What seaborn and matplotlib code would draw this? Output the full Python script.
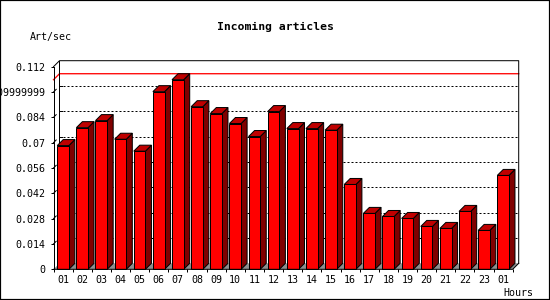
import numpy as np
import pandas as pd
import matplotlib
matplotlib.use("Agg")
import matplotlib.pyplot as plt
from matplotlib.patches import Polygon, Rectangle
import seaborn as sns

# ---- data ----
hours = ['01', '02', '03', '04', '05', '06', '07', '08', '09', '10', '11', '12',
         '13', '14', '15', '16', '17', '18', '19', '20', '21', '22', '23', '01']
rates = [0.0684, 0.0783, 0.0822, 0.0719, 0.0653, 0.0982, 0.1048, 0.0899,
         0.0861, 0.0806, 0.0734, 0.0872, 0.0778, 0.0778, 0.0769, 0.0469,
         0.0309, 0.0292, 0.0281, 0.0237, 0.0226, 0.0320, 0.0215, 0.0519]
ytick_vals = [0, 0.014, 0.028, 0.042, 0.056, 0.07, 0.084, 0.098, 0.112]
ytick_labels = ['0', '0.014', '0.028', '0.042', '0.056', '0.07', '0.084',
                '0.09999999', '0.112']
title = 'Incoming articles'
ylabel = 'Art/sec'
xlabel = 'Hours'

df = pd.DataFrame({'slot': np.arange(len(rates)), 'rate': rates})

FONT = 'DejaVu Sans Mono'
W, H, DPI = 550, 300, 100
PX = 72.0 / DPI  # points per pixel

fig = plt.figure(figsize=(W / DPI, H / DPI), dpi=DPI)
fig.patch.set_facecolor('white')

left_px, right_px, top_px, bot_px = 53.5, 512.7, 66.7, 269.3
ax = fig.add_axes([left_px / W, 1 - bot_px / H,
                   (right_px - left_px) / W, (bot_px - top_px) / H])
ax.set_facecolor('none')

n = len(rates)
x0, x1 = -0.5, n - 0.5
ymax = ytick_vals[-1]
ax.set_xlim(x0, x1)
ax.set_ylim(0, ymax)

# 3D depth (6 px right, 6 px up) in data units
depth_px = 6.0
dx = depth_px * (x1 - x0) / (right_px - left_px)
dy = depth_px * ymax / (bot_px - top_px)

lw = 1.0 * PX
FRONT, TOP, SIDE, FLOOR = '#ff0000', '#bf0000', '#800000', '#8e8e8e'

# floor
ax.add_patch(Polygon([(x0, 0), (x1, 0), (x1 + dx, dy), (x0 + dx, dy)],
                     closed=True, facecolor=FLOOR, edgecolor='none',
                     zorder=1, clip_on=False))

# back plane grid (dotted)
for v in ytick_vals[1:-1]:
    ax.plot([x0 + dx + 0.2, x1 + dx], [v + dy, v + dy], color='black', lw=lw,
            linestyle=(0, (2, 2)), zorder=1.5, clip_on=False)
    ax.plot([x0 + dx, x0 + dx * 1.45], [v + dy, v + dy], color='black', lw=lw,
            zorder=1.5, clip_on=False)
    ax.plot([x0, x0 + dx * 0.45], [v, v + dy * 0.45], color='black', lw=lw,
            zorder=1.5, clip_on=False)

# max line (red) on back plane with left-wall diagonal
vmax = max(rates)
ax.plot([x0, x0 + dx, x1 + dx], [vmax, vmax + dy, vmax + dy], color='red',
        lw=1.3 * PX, zorder=1.6, clip_on=False)

# back plane left edge
ax.plot([x0 + dx, x0 + dx], [dy, ymax + dy], color='black', lw=lw,
        zorder=1.6, clip_on=False)

# bars (front faces)
sns.barplot(data=df, x='slot', y='rate', color=FRONT, saturation=1,
            width=0.61, edgecolor='black', linewidth=lw, ax=ax, zorder=3)

for p in list(ax.patches):
    if isinstance(p, Polygon):
        continue
    bx, bw, bh = p.get_x(), p.get_width(), p.get_height()
    if bh <= 0:
        continue
    p.set_clip_on(False)
    top = Polygon([(bx, bh), (bx + bw, bh), (bx + bw + dx, bh + dy), (bx + dx, bh + dy)],
                  closed=True, facecolor=TOP, edgecolor='black', linewidth=lw,
                  zorder=2.9, clip_on=False, joinstyle='miter')
    side = Polygon([(bx + bw, 0), (bx + bw + dx, dy), (bx + bw + dx, bh + dy), (bx + bw, bh)],
                   closed=True, facecolor=SIDE, edgecolor='black', linewidth=lw,
                   zorder=2.9, clip_on=False, joinstyle='miter')
    ax.add_patch(side)
    ax.add_patch(top)

# 3D frame
frame_kw = dict(color='black', lw=lw, zorder=5, clip_on=False, solid_capstyle='projecting')
ax.plot([x0, x0], [0, ymax], **frame_kw)
ax.plot([x0, x0 + dx, x1 + dx, x1 + dx], [ymax, ymax + dy, ymax + dy, dy], **frame_kw)
ax.plot([x0, x1, x1 + dx], [0, 0, dy], **frame_kw)

for s in ax.spines.values():
    s.set_visible(False)

# ticks
ax.set_yticks(ytick_vals)
ax.set_yticklabels(ytick_labels, fontfamily=FONT, fontsize=7.2)
ax.tick_params(axis='y', direction='out', length=3.5 * PX,
               width=lw, pad=3.5, colors='black')
ax.set_xticks(np.arange(n))
ax.set_xticklabels(hours, fontfamily=FONT, fontsize=7.2)
ax.set_xticks(np.arange(n + 1) - 0.5, minor=True)
ax.tick_params(axis='x', which='major', length=0, pad=4.2)
ax.tick_params(axis='x', which='minor', direction='out', length=3 * PX, width=lw)
ax.set_xlabel('')
ax.set_ylabel('')

# texts
fig.text(275 / W, 1 - 27 / H, title, ha='center', va='center',
         fontfamily=FONT, fontweight='bold', fontsize=8.2)
fig.text(30 / W, 1 - 36.7 / H, ylabel, ha='left', va='center',
         fontfamily=FONT, fontsize=7.2)
fig.text(533.5 / W, 1 - 292.5 / H, xlabel, ha='right', va='center',
         fontfamily=FONT, fontsize=7.2)

# outer border
fig.patches.append(Rectangle((0, 0), 1, 1, transform=fig.transFigure,
                             fill=False, edgecolor='black', linewidth=2.2 * PX,
                             zorder=10))

fig.savefig('out.png', dpi=DPI, facecolor='white')
